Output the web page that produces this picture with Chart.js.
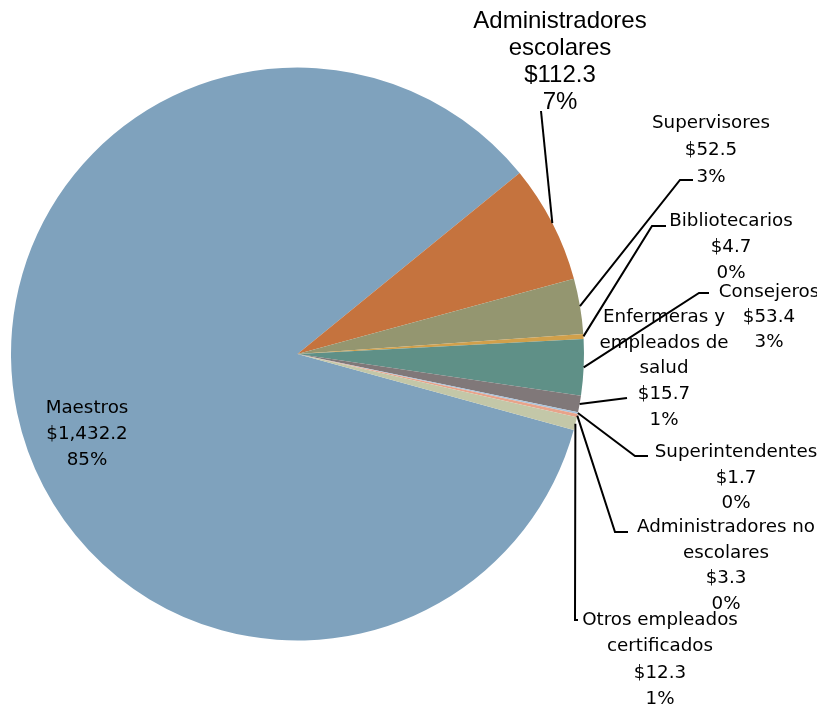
<!DOCTYPE html>
<html>
<head>
<meta charset="utf-8">
<script src="https://cdn.jsdelivr.net/npm/chart.js@4"></script>
<style>
  html, body { margin: 0; padding: 0; background: #fff; }
  #wrap { width: 817px; height: 707px; position: relative; }
</style>
</head>
<body>
<div id="wrap"><canvas id="pieChart"></canvas></div>
<script>
// data, in slice order (Maestros first)
const categories = [
  'Maestros',
  'Administradores escolares',
  'Supervisores',
  'Bibliotecarios',
  'Consejeros',
  'Enfermeras y empleados de salud',
  'Superintendentes',
  'Administradores no escolares',
  'Otros empleados certificados'
];
const amounts = [1432.2, 112.3, 52.5, 4.7, 53.4, 15.7, 1.7, 3.3, 12.3];
const sliceColors = ['#7fa2bd', '#c5733e', '#949670', '#d1a04b', '#5f9087', '#807879', '#a9c4dc', '#e8a38a', '#c3c7a8'];

// how each label is broken into lines
const nameLines = [
  ['Maestros'],
  ['Administradores', 'escolares'],
  ['Supervisores'],
  ['Bibliotecarios'],
  ['Consejeros'],
  ['Enfermeras y', 'empleados de', 'salud'],
  ['Superintendentes'],
  ['Administradores no', 'escolares'],
  ['Otros empleados', 'certificados']
];

// label placement: text centre x, first baseline, line gap, leader path (null = no leader)
const bodyFont = '18.3px "DejaVu Sans"';
const labelLayout = [
  { x: 87, y: 413, gap: 26, font: bodyFont, path: null },
  { x: 560, y: 28, gap: 27, font: '24px "Liberation Sans"', path: [[541, 111]] },
  { x: 711, y: 128, gap: 27, font: bodyFont, path: [[680, 180], [693, 180]] },
  { x: 731, y: 226, gap: 26, font: bodyFont, path: [[652, 226], [666, 226]] },
  { x: 769, y: 297, gap: 25, font: bodyFont, path: [[699, 293], [709, 293]] },
  { x: 664, y: 322, gap: 25.7, font: bodyFont, path: [[627, 398]] },
  { x: 736, y: 457, gap: 25.5, font: bodyFont, path: [[635, 456], [648, 456]] },
  { x: 726, y: 532, gap: 25.7, font: bodyFont, path: [[615, 532], [628, 532]] },
  { x: 660, y: 625, gap: 26.3, font: bodyFont, path: [[575, 620], [578, 620]] }
];

const total = amounts.reduce((a, b) => a + b, 0);

const pieLabels = {
  id: 'pieLabels',
  afterDatasetsDraw(chart) {
    const ctx = chart.ctx;
    const meta = chart.getDatasetMeta(0);
    ctx.save();
    meta.data.forEach((arc, i) => {
      const lay = labelLayout[i];
      if (lay.path) {
        const mid = (arc.startAngle + arc.endAngle) / 2;
        ctx.beginPath();
        ctx.moveTo(arc.x + Math.cos(mid) * arc.outerRadius, arc.y + Math.sin(mid) * arc.outerRadius);
        lay.path.forEach(p => ctx.lineTo(p[0], p[1]));
        ctx.strokeStyle = '#000';
        ctx.lineWidth = 2;
        ctx.stroke();
      }
      const v = amounts[i];
      const lines = nameLines[i].concat([
        '$' + v.toLocaleString('en-US', { minimumFractionDigits: 1, maximumFractionDigits: 1 }),
        Math.round(v / total * 100) + '%'
      ]);
      ctx.font = lay.font;
      ctx.fillStyle = '#000';
      ctx.textAlign = 'center';
      ctx.textBaseline = 'alphabetic';
      lines.forEach((t, k) => ctx.fillText(t, lay.x, lay.y + k * lay.gap));
    });
    ctx.restore();
  }
};

new Chart(document.getElementById('pieChart'), {
  type: 'pie',
  data: {
    labels: categories,
    datasets: [{
      data: amounts,
      backgroundColor: sliceColors,
      borderWidth: 0
    }]
  },
  options: {
    responsive: true,
    maintainAspectRatio: false,
    animation: false,
    rotation: 105.4,
    layout: { padding: { left: 11, right: 233, top: 67, bottom: 66 } },
    plugins: {
      legend: { display: false },
      tooltip: { enabled: false }
    }
  },
  plugins: [pieLabels]
});
</script>
</body>
</html>
